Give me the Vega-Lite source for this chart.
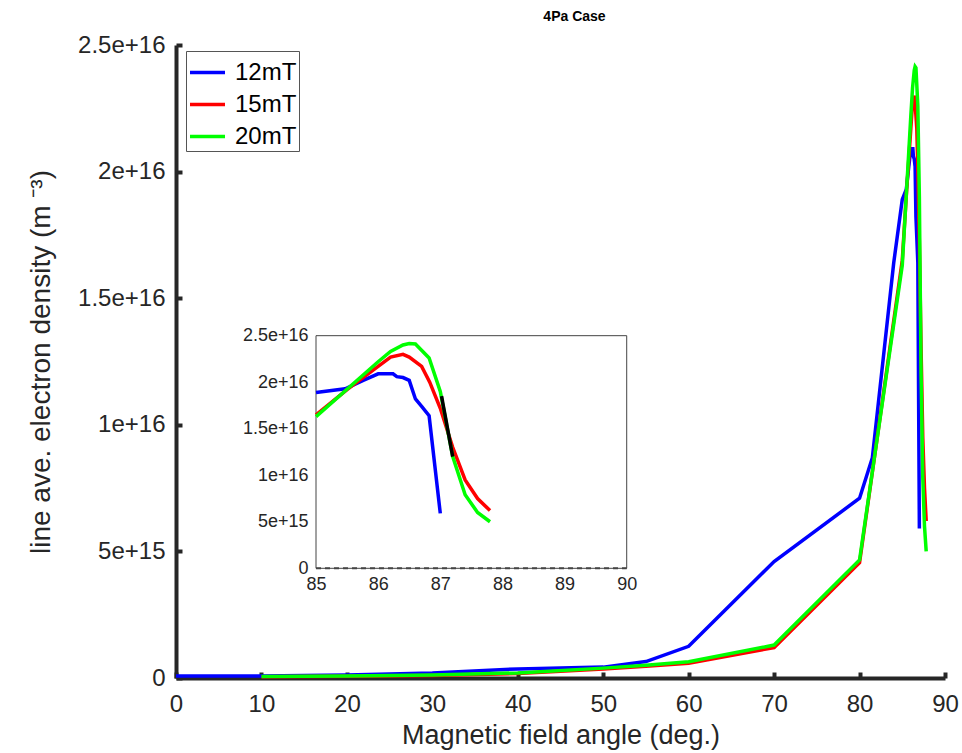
{
  "$schema": "https://vega.github.io/schema/vega-lite/v6.json",
  "width": 769,
  "height": 633,
  "autosize": "none",
  "padding": {"left": 176, "top": 45, "right": 17, "bottom": 75},
  "background": "white",
  "config": {
    "font": "Liberation Sans",
    "view": {"stroke": null},
    "axis": {"grid": false, "labelFlush": false, "labelFont": "Liberation Sans", "titleFont": "Liberation Sans", "labelColor": "#262626", "titleColor": "#262626", "titleFontWeight": "normal"}
  },
  "title": {"text": "4Pa Case", "fontSize": 14, "fontWeight": "bold", "font": "Liberation Sans", "color": "#000000", "offset": 9, "anchor": "middle", "dx": 14},
  "datasets": {
    "curves": [
      {"x": 0, "y": 8e13, "series": "12mT"},
      {"x": 10, "y": 8e13, "series": "12mT"},
      {"x": 20, "y": 1.2e14, "series": "12mT"},
      {"x": 30, "y": 2e14, "series": "12mT"},
      {"x": 40, "y": 3.6e14, "series": "12mT"},
      {"x": 50, "y": 4.3e14, "series": "12mT"},
      {"x": 55, "y": 6.5e14, "series": "12mT"},
      {"x": 60, "y": 1.25e15, "series": "12mT"},
      {"x": 70, "y": 4.6e15, "series": "12mT"},
      {"x": 80, "y": 7.1e15, "series": "12mT"},
      {"x": 81.5, "y": 8.7e15, "series": "12mT"},
      {"x": 84, "y": 1.64e16, "series": "12mT"},
      {"x": 85, "y": 1.89e16, "series": "12mT"},
      {"x": 85.47, "y": 1.93e16, "series": "12mT"},
      {"x": 85.76, "y": 2.02e16, "series": "12mT"},
      {"x": 86, "y": 2.09e16, "series": "12mT"},
      {"x": 86.24, "y": 2.09e16, "series": "12mT"},
      {"x": 86.3, "y": 2.06e16, "series": "12mT"},
      {"x": 86.4, "y": 2.05e16, "series": "12mT"},
      {"x": 86.5, "y": 2.02e16, "series": "12mT"},
      {"x": 86.6, "y": 1.82e16, "series": "12mT"},
      {"x": 86.7, "y": 1.74e16, "series": "12mT"},
      {"x": 86.82, "y": 1.64e16, "series": "12mT"},
      {"x": 87, "y": 5.9e15, "series": "12mT"},
      {"x": 10, "y": 5e13, "series": "15mT"},
      {"x": 20, "y": 7e13, "series": "15mT"},
      {"x": 30, "y": 1e14, "series": "15mT"},
      {"x": 40, "y": 1.8e14, "series": "15mT"},
      {"x": 50, "y": 3.6e14, "series": "15mT"},
      {"x": 55, "y": 4.6e14, "series": "15mT"},
      {"x": 60, "y": 5.8e14, "series": "15mT"},
      {"x": 70, "y": 1.2e15, "series": "15mT"},
      {"x": 80, "y": 4.55e15, "series": "15mT"},
      {"x": 85, "y": 1.65e16, "series": "15mT"},
      {"x": 85.5, "y": 1.92e16, "series": "15mT"},
      {"x": 86, "y": 2.17e16, "series": "15mT"},
      {"x": 86.2, "y": 2.27e16, "series": "15mT"},
      {"x": 86.4, "y": 2.3e16, "series": "15mT"},
      {"x": 86.5, "y": 2.27e16, "series": "15mT"},
      {"x": 86.7, "y": 2.17e16, "series": "15mT"},
      {"x": 86.83, "y": 2.0e16, "series": "15mT"},
      {"x": 87, "y": 1.72e16, "series": "15mT"},
      {"x": 87.2, "y": 1.3e16, "series": "15mT"},
      {"x": 87.4, "y": 9.5e15, "series": "15mT"},
      {"x": 87.6, "y": 7.5e15, "series": "15mT"},
      {"x": 87.8, "y": 6.2e15, "series": "15mT"},
      {"x": 10, "y": 6e13, "series": "20mT"},
      {"x": 20, "y": 8e13, "series": "20mT"},
      {"x": 30, "y": 1.2e14, "series": "20mT"},
      {"x": 40, "y": 2e14, "series": "20mT"},
      {"x": 50, "y": 3.9e14, "series": "20mT"},
      {"x": 55, "y": 5e14, "series": "20mT"},
      {"x": 60, "y": 6.4e14, "series": "20mT"},
      {"x": 70, "y": 1.3e15, "series": "20mT"},
      {"x": 80, "y": 4.66e15, "series": "20mT"},
      {"x": 85, "y": 1.63e16, "series": "20mT"},
      {"x": 86, "y": 2.22e16, "series": "20mT"},
      {"x": 86.2, "y": 2.33e16, "series": "20mT"},
      {"x": 86.4, "y": 2.4e16, "series": "20mT"},
      {"x": 86.5, "y": 2.415e16, "series": "20mT"},
      {"x": 86.6, "y": 2.41e16, "series": "20mT"},
      {"x": 86.82, "y": 2.26e16, "series": "20mT"},
      {"x": 87, "y": 1.9e16, "series": "20mT"},
      {"x": 87.2, "y": 1.2e16, "series": "20mT"},
      {"x": 87.4, "y": 7.9e15, "series": "20mT"},
      {"x": 87.6, "y": 6.0e15, "series": "20mT"},
      {"x": 87.8, "y": 5.0e15, "series": "20mT"}
    ],
    "seg": [
      {"x": 87.02, "y": 1.85e16},
      {"x": 87.2, "y": 1.2e16}
    ],
    "one": [{}]
  },
  "resolve": {
    "scale": {"x": "independent", "y": "independent"},
    "axis": {"x": "independent", "y": "independent"}
  },
  "layer": [
    {
      "data": {"name": "curves"},
      "mark": {"type": "line", "strokeWidth": 3.5, "clip": false},
      "encoding": {
        "x": {"field": "x", "type": "quantitative", "scale": {"domain": [0, 90], "nice": false},
          "axis": {"orient": "bottom", "values": [0,10,20,30,40,50,60,70,80,90], "title": "Magnetic field angle (deg.)", "titleFontSize": 27, "labelFontSize": 24, "domainWidth": 4, "domainColor": "#262626", "tickColor": "#262626", "tickWidth": 4, "tickSize": -6, "labelPadding": 20, "titlePadding": 6}},
        "y": {"field": "y", "type": "quantitative", "scale": {"domain": [0, 2.5e16], "nice": false},
          "axis": {"orient": "left", "values": [0, 5e15, 1e16, 1.5e16, 2e16, 2.5e16], "labelExpr": "datum.value == 0 ? '0' : format(datum.value, '.1~e')", "title": "line ave. electron density (m  ⁻³)", "titleFontSize": 28, "labelFontSize": 24, "domainWidth": 4, "domainColor": "#262626", "tickColor": "#262626", "tickWidth": 4, "tickSize": -6, "labelPadding": 17, "titlePadding": 22}},
        "color": {"field": "series", "type": "nominal",
          "scale": {"domain": ["12mT", "15mT", "20mT"], "range": ["#0000ff", "#ff0000", "#00ff00"]},
          "legend": {"title": null, "orient": "none", "legendX": 10, "legendY": 6, "symbolType": "stroke", "symbolSize": 1225, "symbolStrokeWidth": 3.5, "labelFontSize": 24, "labelFont": "Liberation Sans", "labelColor": "#000000", "rowPadding": 0, "padding": 2, "strokeColor": "#555555", "fillColor": "white", "labelOffset": 8}},
        "order": {"field": "x", "type": "quantitative"}
      }
    },
    {
      "layer": [
        {
          "data": {"name": "one"},
          "mark": {"type": "rect", "fill": "white", "stroke": "#444444", "strokeWidth": 1},
          "encoding": {
            "x": {"datum": 85, "type": "quantitative", "scale": {"domain": [82.747, 95.122], "nice": false, "zero": false},
              "axis": {"orient": "bottom", "offset": -110, "values": [85,86,87,88,89,90], "title": null, "labelFontSize": 18, "domain": false, "ticks": false, "labelPadding": 7}},
            "x2": {"datum": 90},
            "y": {"datum": 0, "type": "quantitative", "scale": {"domain": [-1.179e16, 5.624e16], "nice": false, "zero": false},
              "axis": {"orient": "left", "offset": -140, "values": [0, 5e15, 1e16, 1.5e16, 2e16, 2.5e16], "labelExpr": "datum.value == 0 ? '0' : format(datum.value, '.1~e')", "title": null, "labelFontSize": 18, "domain": false, "ticks": false, "labelPadding": 8}},
            "y2": {"datum": 2.5e16}
          }
        },
        {
          "data": {"name": "one"},
          "mark": {"type": "rule", "stroke": "#444444", "strokeWidth": 2, "strokeDash": [5, 4]},
          "encoding": {
            "x": {"datum": 85, "type": "quantitative",
              "axis": {"orient": "bottom", "offset": -110, "values": [85,86,87,88,89,90], "title": null, "labelFontSize": 18, "domain": false, "ticks": false, "labelPadding": 7}},
            "x2": {"datum": 90},
            "y": {"datum": 0, "type": "quantitative",
              "axis": {"orient": "left", "offset": -140, "values": [0, 5e15, 1e16, 1.5e16, 2e16, 2.5e16], "labelExpr": "datum.value == 0 ? '0' : format(datum.value, '.1~e')", "title": null, "labelFontSize": 18, "domain": false, "ticks": false, "labelPadding": 8}}
          }
        },
        {
          "data": {"name": "curves"},
          "transform": [{"filter": "datum.x >= 85"}],
          "mark": {"type": "line", "strokeWidth": 3.5, "clip": false},
          "encoding": {
            "x": {"field": "x", "type": "quantitative",
              "axis": {"orient": "bottom", "offset": -110, "values": [85,86,87,88,89,90], "title": null, "labelFontSize": 18, "domain": false, "ticks": false, "labelPadding": 7}},
            "y": {"field": "y", "type": "quantitative",
              "axis": {"orient": "left", "offset": -140, "values": [0, 5e15, 1e16, 1.5e16, 2e16, 2.5e16], "labelExpr": "datum.value == 0 ? '0' : format(datum.value, '.1~e')", "title": null, "labelFontSize": 18, "domain": false, "ticks": false, "labelPadding": 8}},
            "color": {"field": "series", "type": "nominal"},
            "order": {"field": "x", "type": "quantitative"}
          }
        },
        {
          "data": {"name": "seg"},
          "mark": {"type": "line", "strokeWidth": 3.5, "color": "#000000"},
          "encoding": {
            "x": {"field": "x", "type": "quantitative",
              "axis": {"orient": "bottom", "offset": -110, "values": [85,86,87,88,89,90], "title": null, "labelFontSize": 18, "domain": false, "ticks": false, "labelPadding": 7}},
            "y": {"field": "y", "type": "quantitative",
              "axis": {"orient": "left", "offset": -140, "values": [0, 5e15, 1e16, 1.5e16, 2e16, 2.5e16], "labelExpr": "datum.value == 0 ? '0' : format(datum.value, '.1~e')", "title": null, "labelFontSize": 18, "domain": false, "ticks": false, "labelPadding": 8}}
          }
        }
      ]
    }
  ]
}
